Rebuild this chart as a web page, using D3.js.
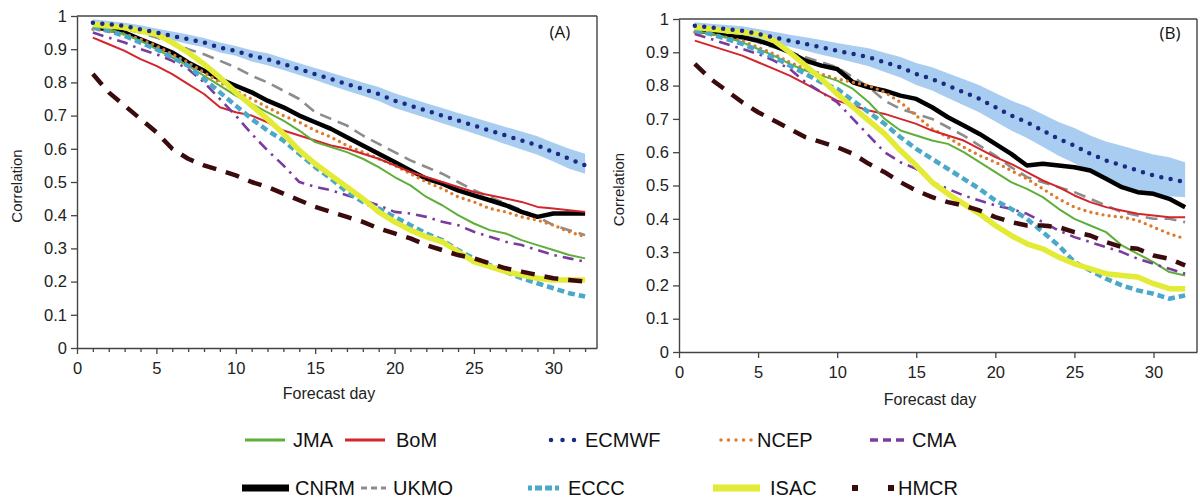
<!DOCTYPE html>
<html>
<head>
<meta charset="utf-8">
<script src="https://cdn.jsdelivr.net/npm/d3@7/dist/d3.min.js"></script>
<style>
  html, body { margin: 0; padding: 0; background: #fff; }
  svg { display: block; font-family: "Liberation Sans", Arial, sans-serif; }
</style>
</head>
<body>
<svg id="chart" width="1200" height="500"></svg>
<script>
// ---------------- DATA ----------------
const days = [1,2,3,4,5,6,7,8,9,10,11,12,13,14,15,16,17,18,19,20,21,22,23,24,25,26,27,28,29,30,31,32];
const xTickValues = [0,5,10,15,20,25,30];
const xTickLabels = ["0","5","10","15","20","25","30"];
const yTickValues = [0,0.1,0.2,0.3,0.4,0.5,0.6,0.7,0.8,0.9,1];
const yTickLabels = ["0","0.1","0.2","0.3","0.4","0.5","0.6","0.7","0.8","0.9","1"];
const models = ["JMA","BoM","ECMWF","NCEP","CMA","CNRM","UKMO","ECCC","ISAC","HMCR"];
const panelLabels = ["(A)","(B)"];

// Panel A
const jmaA   = [.97,.96,.945,.925,.90,.875,.85,.82,.79,.76,.735,.71,.685,.655,.62,.605,.59,.57,.545,.515,.49,.455,.43,.40,.375,.355,.345,.325,.31,.295,.28,.27];
const bomA   = [.935,.915,.895,.87,.85,.825,.795,.765,.725,.71,.70,.68,.655,.64,.625,.61,.60,.585,.57,.55,.53,.515,.50,.485,.47,.46,.45,.44,.425,.42,.415,.41];
const ecmwfA = [.98,.975,.97,.96,.95,.94,.93,.92,.905,.895,.88,.87,.855,.84,.825,.81,.795,.78,.765,.745,.73,.715,.70,.685,.67,.655,.64,.625,.61,.59,.57,.55];
const ecmwfHiA = [.99,.985,.98,.972,.962,.953,.944,.934,.92,.91,.897,.888,.873,.858,.843,.829,.815,.80,.786,.767,.752,.737,.723,.708,.694,.68,.666,.652,.638,.618,.60,.585];
const ecmwfLoA = [.97,.965,.96,.948,.938,.927,.916,.906,.89,.88,.863,.852,.837,.822,.807,.791,.775,.76,.744,.723,.708,.693,.677,.662,.646,.63,.614,.598,.582,.562,.54,.525];
const ncepA  = [.96,.955,.945,.93,.91,.885,.86,.83,.80,.775,.75,.725,.70,.68,.655,.635,.61,.59,.57,.55,.525,.50,.48,.455,.44,.42,.41,.395,.385,.37,.35,.335];
const cmaA   = [.95,.935,.92,.90,.885,.865,.84,.80,.75,.70,.645,.595,.55,.50,.485,.475,.46,.445,.43,.41,.405,.395,.38,.37,.35,.335,.32,.31,.295,.28,.27,.26];
const cnrmA  = [.965,.96,.95,.93,.91,.89,.86,.835,.81,.79,.77,.745,.725,.70,.68,.66,.635,.61,.585,.56,.535,.51,.495,.475,.46,.445,.43,.41,.395,.405,.405,.405];
const ukmoA  = [.975,.97,.96,.95,.935,.92,.90,.885,.865,.845,.82,.80,.775,.75,.71,.69,.67,.64,.615,.59,.565,.545,.525,.50,.475,.455,.435,.415,.395,.37,.355,.34];
const ecccA  = [.965,.955,.94,.92,.90,.875,.85,.81,.77,.73,.69,.655,.625,.585,.545,.51,.47,.44,.42,.395,.37,.345,.325,.295,.27,.25,.23,.21,.195,.18,.165,.155];
const isacA  = [.975,.97,.965,.955,.945,.92,.89,.855,.815,.77,.73,.69,.645,.595,.555,.52,.485,.45,.41,.38,.355,.335,.32,.29,.26,.245,.23,.22,.21,.205,.205,.205];
const hmcrA  = [.825,.77,.73,.69,.65,.60,.57,.55,.535,.52,.50,.485,.465,.445,.425,.41,.395,.38,.36,.345,.33,.31,.295,.28,.27,.255,.24,.23,.22,.21,.205,.20];

// Panel B
const jmaB   = [.965,.955,.945,.93,.91,.89,.865,.845,.83,.815,.79,.75,.70,.665,.65,.635,.625,.60,.57,.54,.51,.49,.465,.43,.40,.38,.36,.32,.295,.27,.24,.23];
const bomB   = [.935,.92,.905,.89,.87,.85,.83,.805,.78,.755,.74,.725,.715,.70,.685,.665,.65,.635,.61,.585,.565,.54,.515,.495,.47,.45,.435,.425,.415,.41,.405,.405];
const ecmwfB = [.98,.975,.97,.965,.955,.945,.935,.925,.915,.905,.895,.885,.87,.855,.835,.82,.80,.78,.76,.735,.71,.69,.665,.64,.62,.595,.575,.56,.545,.53,.52,.51];
const ecmwfHiB = [.99,.986,.982,.978,.97,.962,.953,.945,.937,.928,.92,.912,.899,.886,.868,.855,.837,.819,.801,.778,.755,.737,.714,.691,.673,.65,.632,.619,.606,.593,.585,.57];
const ecmwfLoB = [.97,.964,.958,.952,.94,.928,.917,.905,.893,.882,.87,.858,.841,.824,.802,.785,.763,.741,.719,.692,.665,.643,.616,.589,.567,.54,.518,.501,.486,.474,.468,.465];
const ncepB  = [.96,.955,.945,.935,.915,.895,.87,.85,.835,.82,.81,.80,.78,.75,.71,.67,.645,.615,.59,.57,.545,.52,.49,.46,.435,.42,.41,.405,.395,.375,.355,.34];
const cmaB   = [.955,.94,.925,.91,.895,.875,.85,.81,.78,.75,.70,.65,.60,.57,.55,.51,.49,.47,.455,.44,.43,.415,.39,.365,.345,.33,.315,.30,.28,.265,.25,.235];
const cnrmB  = [.965,.96,.95,.945,.935,.92,.90,.875,.86,.85,.81,.795,.785,.77,.76,.735,.705,.68,.655,.625,.595,.56,.565,.56,.555,.545,.52,.495,.48,.475,.46,.435];
const ukmoB  = [.97,.965,.955,.945,.93,.915,.90,.885,.87,.855,.825,.795,.755,.73,.715,.70,.675,.65,.62,.59,.555,.525,.51,.495,.48,.46,.44,.42,.41,.40,.40,.39];
const ecccB  = [.965,.955,.94,.925,.905,.885,.86,.835,.81,.79,.755,.72,.685,.645,.61,.58,.55,.52,.49,.455,.43,.40,.36,.32,.27,.245,.22,.20,.185,.175,.16,.17];
const isacB  = [.975,.97,.965,.96,.955,.935,.90,.86,.82,.775,.735,.695,.655,.605,.56,.51,.475,.445,.415,.38,.35,.325,.31,.285,.265,.25,.235,.23,.225,.205,.19,.19];
const hmcrB  = [.865,.82,.785,.75,.72,.695,.67,.645,.63,.615,.595,.565,.54,.51,.485,.465,.45,.44,.425,.405,.39,.38,.38,.375,.36,.35,.33,.315,.31,.29,.28,.26];

// ---------------- STYLES ----------------
const styles = {
  JMA:   {color:"#5fae3a", width:2,   dash:null,        cap:"butt"},
  BoM:   {color:"#d2262c", width:2,   dash:null,        cap:"butt"},
  ECMWF: {color:"#1b2a82", width:4.5, dash:"0 9.5",     cap:"round"},
  NCEP:  {color:"#e07a2b", width:3.4, dash:"0 6.2",     cap:"round"},
  CMA:   {color:"#7a3b9e", width:2.6, dash:"11 6 2.5 6", cap:"butt"},
  CNRM:  {color:"#000000", width:4.5, dash:null,        cap:"butt"},
  UKMO:  {color:"#8c8c8c", width:2.6, dash:"12 7",      cap:"butt"},
  ECCC:  {color:"#4ba8c8", width:4.5, dash:"7 4",       cap:"butt"},
  ISAC:  {color:"#e3eb36", width:5.5, dash:null,        cap:"butt"},
  HMCR:  {color:"#3b0a0c", width:4.5, dash:"14 10",     cap:"butt"}
};
const bandColor = "#a9cdf1";

const panelA = {
  series: {JMA:jmaA, BoM:bomA, ECMWF:ecmwfA, NCEP:ncepA, CMA:cmaA, CNRM:cnrmA, UKMO:ukmoA, ECCC:ecccA, ISAC:isacA, HMCR:hmcrA},
  lo: ecmwfLoA, hi: ecmwfHiA,
  x0:77, x1:597, y0:348, y1:16, label:panelLabels[0], lx:560, ly:38, minor:true, yTitleX:22, xTitleY:399
};
const panelB = {
  series: {JMA:jmaB, BoM:bomB, ECMWF:ecmwfB, NCEP:ncepB, CMA:cmaB, CNRM:cnrmB, UKMO:ukmoB, ECCC:ecccB, ISAC:isacB, HMCR:hmcrB},
  lo: ecmwfLoB, hi: ecmwfHiB,
  x0:679, x1:1197, y0:352, y1:19, label:panelLabels[1], lx:1170, ly:39, minor:false, yTitleX:624, xTitleY:405
};

const drawOrder = ["UKMO","CNRM","NCEP","BoM","JMA","CMA","ECCC","ISAC","HMCR","ECMWF"];
const svg = d3.select("#chart");

function drawPanel(p) {
  const g = svg.append("g");
  const x = d3.scaleLinear().domain([0, 32.75]).range([p.x0, p.x1]);
  const y = d3.scaleLinear().domain([0, 1]).range([p.y0, p.y1]);

  // band
  const area = d3.area().x((d,i)=>x(days[i])).y0((d,i)=>y(p.lo[i])).y1((d,i)=>y(p.hi[i]));
  g.append("path").datum(days).attr("d", area).attr("fill", bandColor).attr("stroke","none");

  // lines
  const line = d3.line().x((d,i)=>x(days[i])).y(d=>y(d));
  drawOrder.forEach(m => {
    const s = styles[m];
    g.append("path").datum(p.series[m])
      .attr("d", line)
      .attr("fill","none")
      .attr("stroke", s.color)
      .attr("stroke-width", s.width)
      .attr("stroke-dasharray", s.dash)
      .attr("stroke-linecap", s.cap)
      .attr("stroke-linejoin","round");
  });

  // frame top/right
  g.append("line").attr("x1",p.x0).attr("x2",p.x1).attr("y1",p.y1).attr("y2",p.y1)
    .attr("stroke","#444").attr("stroke-width",1.4);
  g.append("line").attr("x1",p.x1).attr("x2",p.x1).attr("y1",p.y1).attr("y2",p.y0)
    .attr("stroke","#444").attr("stroke-width",1.4);

  // x axis
  g.append("g").attr("transform",`translate(0,${p.y0})`)
    .call(d3.axisBottom(x).tickValues(xTickValues).tickFormat((d,i)=>xTickLabels[i])
      .tickSize(6).tickSizeOuter(0).tickPadding(8));
  if (p.minor) {
    const minorDays = days.filter(d => xTickValues.indexOf(d) < 0);
    g.append("g").attr("transform",`translate(0,${p.y0})`)
      .call(d3.axisBottom(x).tickValues(minorDays).tickFormat("").tickSize(4).tickSizeOuter(0))
      .select(".domain").remove();
  }
  // y axis
  g.append("g").attr("transform",`translate(${p.x0},0)`)
    .call(d3.axisLeft(y).tickValues(yTickValues).tickFormat((d,i)=>yTickLabels[i])
      .tickSize(6).tickSizeOuter(0).tickPadding(4));
  g.selectAll(".domain").attr("stroke","#444").attr("stroke-width",1.4);
  g.selectAll(".tick line").attr("stroke","#444").attr("stroke-width",1.3);
  g.selectAll(".tick text").attr("font-size",16.5).attr("fill","#222")
    .attr("font-family",'"Liberation Sans", Arial, sans-serif');

  // titles
  g.append("text").attr("x",(p.x0+p.x1)/2 - 8).attr("y",p.xTitleY)
    .attr("text-anchor","middle").attr("font-size",16).attr("fill","#222").text("Forecast day");
  g.append("text").attr("transform",`translate(${p.yTitleX},${(p.y0+p.y1)/2 + 4}) rotate(-90)`)
    .attr("text-anchor","middle").attr("font-size",15).attr("fill","#222").text("Correlation");
  g.append("text").attr("x",p.lx).attr("y",p.ly).attr("text-anchor","middle")
    .attr("font-size",17).attr("font-family",'"Open Sans", sans-serif').attr("fill","#111").text(p.label);
}

drawPanel(panelA);
drawPanel(panelB);

// ---------------- LEGEND ----------------
const legendPos = {
  JMA:  {x:245, w:40, row:0, tx:293},
  BoM:  {x:345, w:40, row:0, tx:396},
  ECMWF:{x:549, w:28, row:0, tx:585},
  NCEP: {x:719, w:36, row:0, tx:757},
  CMA:  {x:870, w:36, row:0, tx:912},
  CNRM: {x:242, w:47, row:1, tx:295},
  UKMO: {x:361, w:25, row:1, tx:393},
  ECCC: {x:528, w:34, row:1, tx:568},
  ISAC: {x:713, w:47, row:1, tx:770},
  HMCR: {x:852, w:42, row:1, tx:898}
};
const legendSym = {
  JMA:{width:3.2,dash:null}, BoM:{width:3.2,dash:null}, ECMWF:{width:4.5,dash:"0 11.5"},
  NCEP:{width:3.5,dash:"0 7.5"}, CMA:{width:3.5,dash:"8 5"}, CNRM:{width:7,dash:null},
  UKMO:{width:3.2,dash:"6 4"}, ECCC:{width:5,dash:"4 3 7 3 7 3"}, ISAC:{width:7,dash:null}, HMCR:{width:6,dash:"6 30"}
};
const rowY = [440, 488];
const lg = svg.append("g");
models.forEach(m => {
  const p = legendPos[m], s = styles[m], ls = legendSym[m];
  const yy = rowY[p.row];
  lg.append("line").attr("x1",p.x + (s.cap==="round"?2:0)).attr("x2",p.x+p.w).attr("y1",yy).attr("y2",yy)
    .attr("stroke",s.color).attr("stroke-width",ls.width)
    .attr("stroke-dasharray",ls.dash).attr("stroke-linecap",s.cap);
  lg.append("text").attr("x",p.tx).attr("y",yy+7).attr("font-size",20).attr("fill","#111").text(m);
});
</script>
</body>
</html>
